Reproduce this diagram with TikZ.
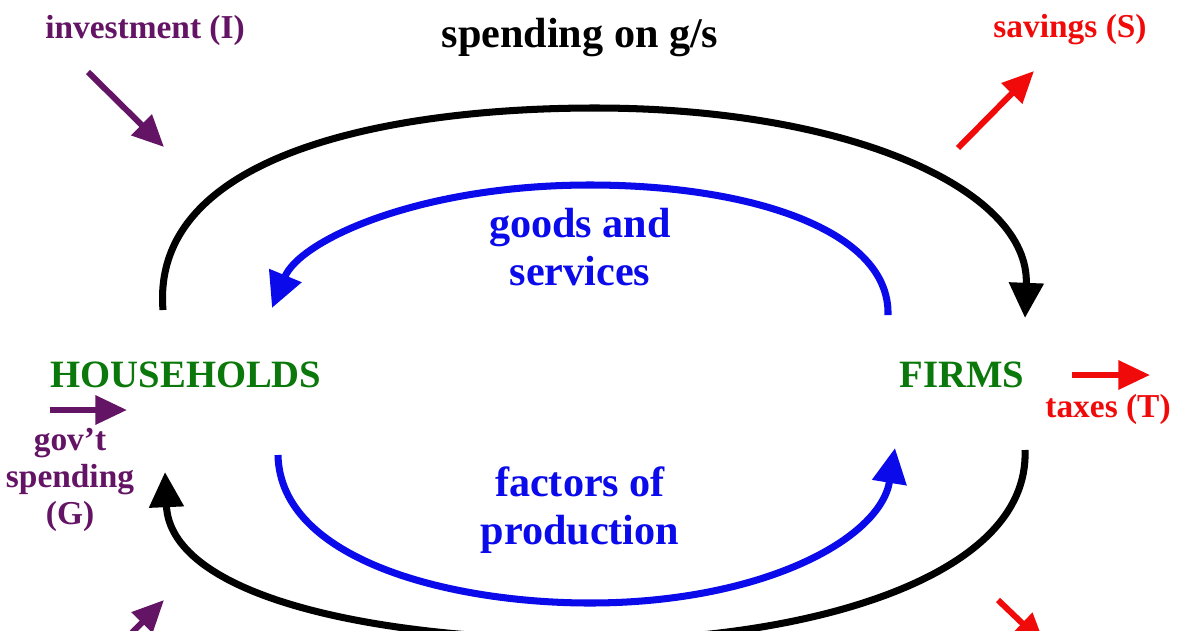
\documentclass[tikz,border=0pt]{standalone}
\usepackage{fontspec}
\setmainfont{Liberation Serif}
\usetikzlibrary{arrows.meta}
\definecolor{pur}{RGB}{100,20,100}
\definecolor{grn}{RGB}{10,120,10}
\definecolor{blu}{RGB}{10,10,235}
\definecolor{rd}{RGB}{240,10,10}
\begin{document}
\begin{tikzpicture}[x=0.01cm,y=-0.01cm,
 flow/.style={line width=2pt,-{Triangle[length=10pt,width=9.5pt]}},
 sarrow/.style={line width=1.7pt,-{Triangle[length=9pt,width=8pt]}},
 lbl/.style={font=\bfseries\fontsize{12}{13.5}\selectfont,align=center},
 slbl/.style={font=\bfseries\fontsize{9.5}{10.5}\selectfont,align=center}]
\useasboundingbox (0,0) rectangle (1200,630);
\clip (0,0) rectangle (1200,630);
\fill[white] (0,0) rectangle (1200,630);
\node[lbl] (sp) at (580,38) {spending on g/s};
\node[lbl,blu] (gs) at (580,247) {goods and\\services};
\node[lbl,blu] (fp) at (580,510) {factors of\\production};
\node[lbl,grn,font=\bfseries\fontsize{11}{13}\selectfont] (hh) at (186,375) {HOUSEHOLDS};
\node[lbl,grn,font=\bfseries\fontsize{11}{13}\selectfont] (fi) at (962,375) {FIRMS};
\node[slbl,pur] (inv) at (145,30) {investment (I)};
\node[slbl,rd] (sav) at (1070,30) {savings (S)};
\node[slbl,rd] (tax) at (1108,409) {taxes (T)};
\node[slbl,pur] (gov) at (70,480) {gov’t\\spending\\(G)};
\coordinate (a1) at (163,310); \coordinate (a2) at (1025,318);
\coordinate (b1) at (1025,450); \coordinate (b2) at (165,472);
\coordinate (c1) at (888,315); \coordinate (c2) at (272,308);
\coordinate (d1) at (278,455); \coordinate (d2) at (895,448);
\draw[flow] (a1) .. controls (150,150) and (400,108) .. (595,108) .. controls (850,108) and (1030,190) .. (a2);
\draw[flow] (b1) .. controls (1030,580) and (800,640) .. (600,640) .. controls (350,640) and (170,590) .. (b2);
\draw[flow,blu] (c1) .. controls (890,230) and (750,185) .. (590,185) .. controls (420,185) and (300,240) .. (c2);
\draw[flow,blu] (d1) .. controls (280,560) and (450,603) .. (590,603) .. controls (760,603) and (880,540) .. (d2);
\coordinate (i1) at (88,72); \coordinate (i2) at (164,147);
\coordinate (s1) at (958,148); \coordinate (s2) at (1034,71);
\coordinate (t1) at (1072,375); \coordinate (t2) at (1150,375);
\coordinate (g1) at (50,410); \coordinate (g2) at (127,410);
\coordinate (p1) at (120,645); \coordinate (p2) at (164,600);
\coordinate (r1) at (998,600); \coordinate (r2) at (1045,645);
\draw[sarrow,pur] (i1) -- (i2);
\draw[sarrow,rd] (s1) -- (s2);
\draw[sarrow,rd] (t1) -- (t2);
\draw[sarrow,pur] (g1) -- (g2);
\draw[sarrow,pur] (p1) -- (p2);
\draw[sarrow,rd] (r1) -- (r2);
\end{tikzpicture}
\end{document}
